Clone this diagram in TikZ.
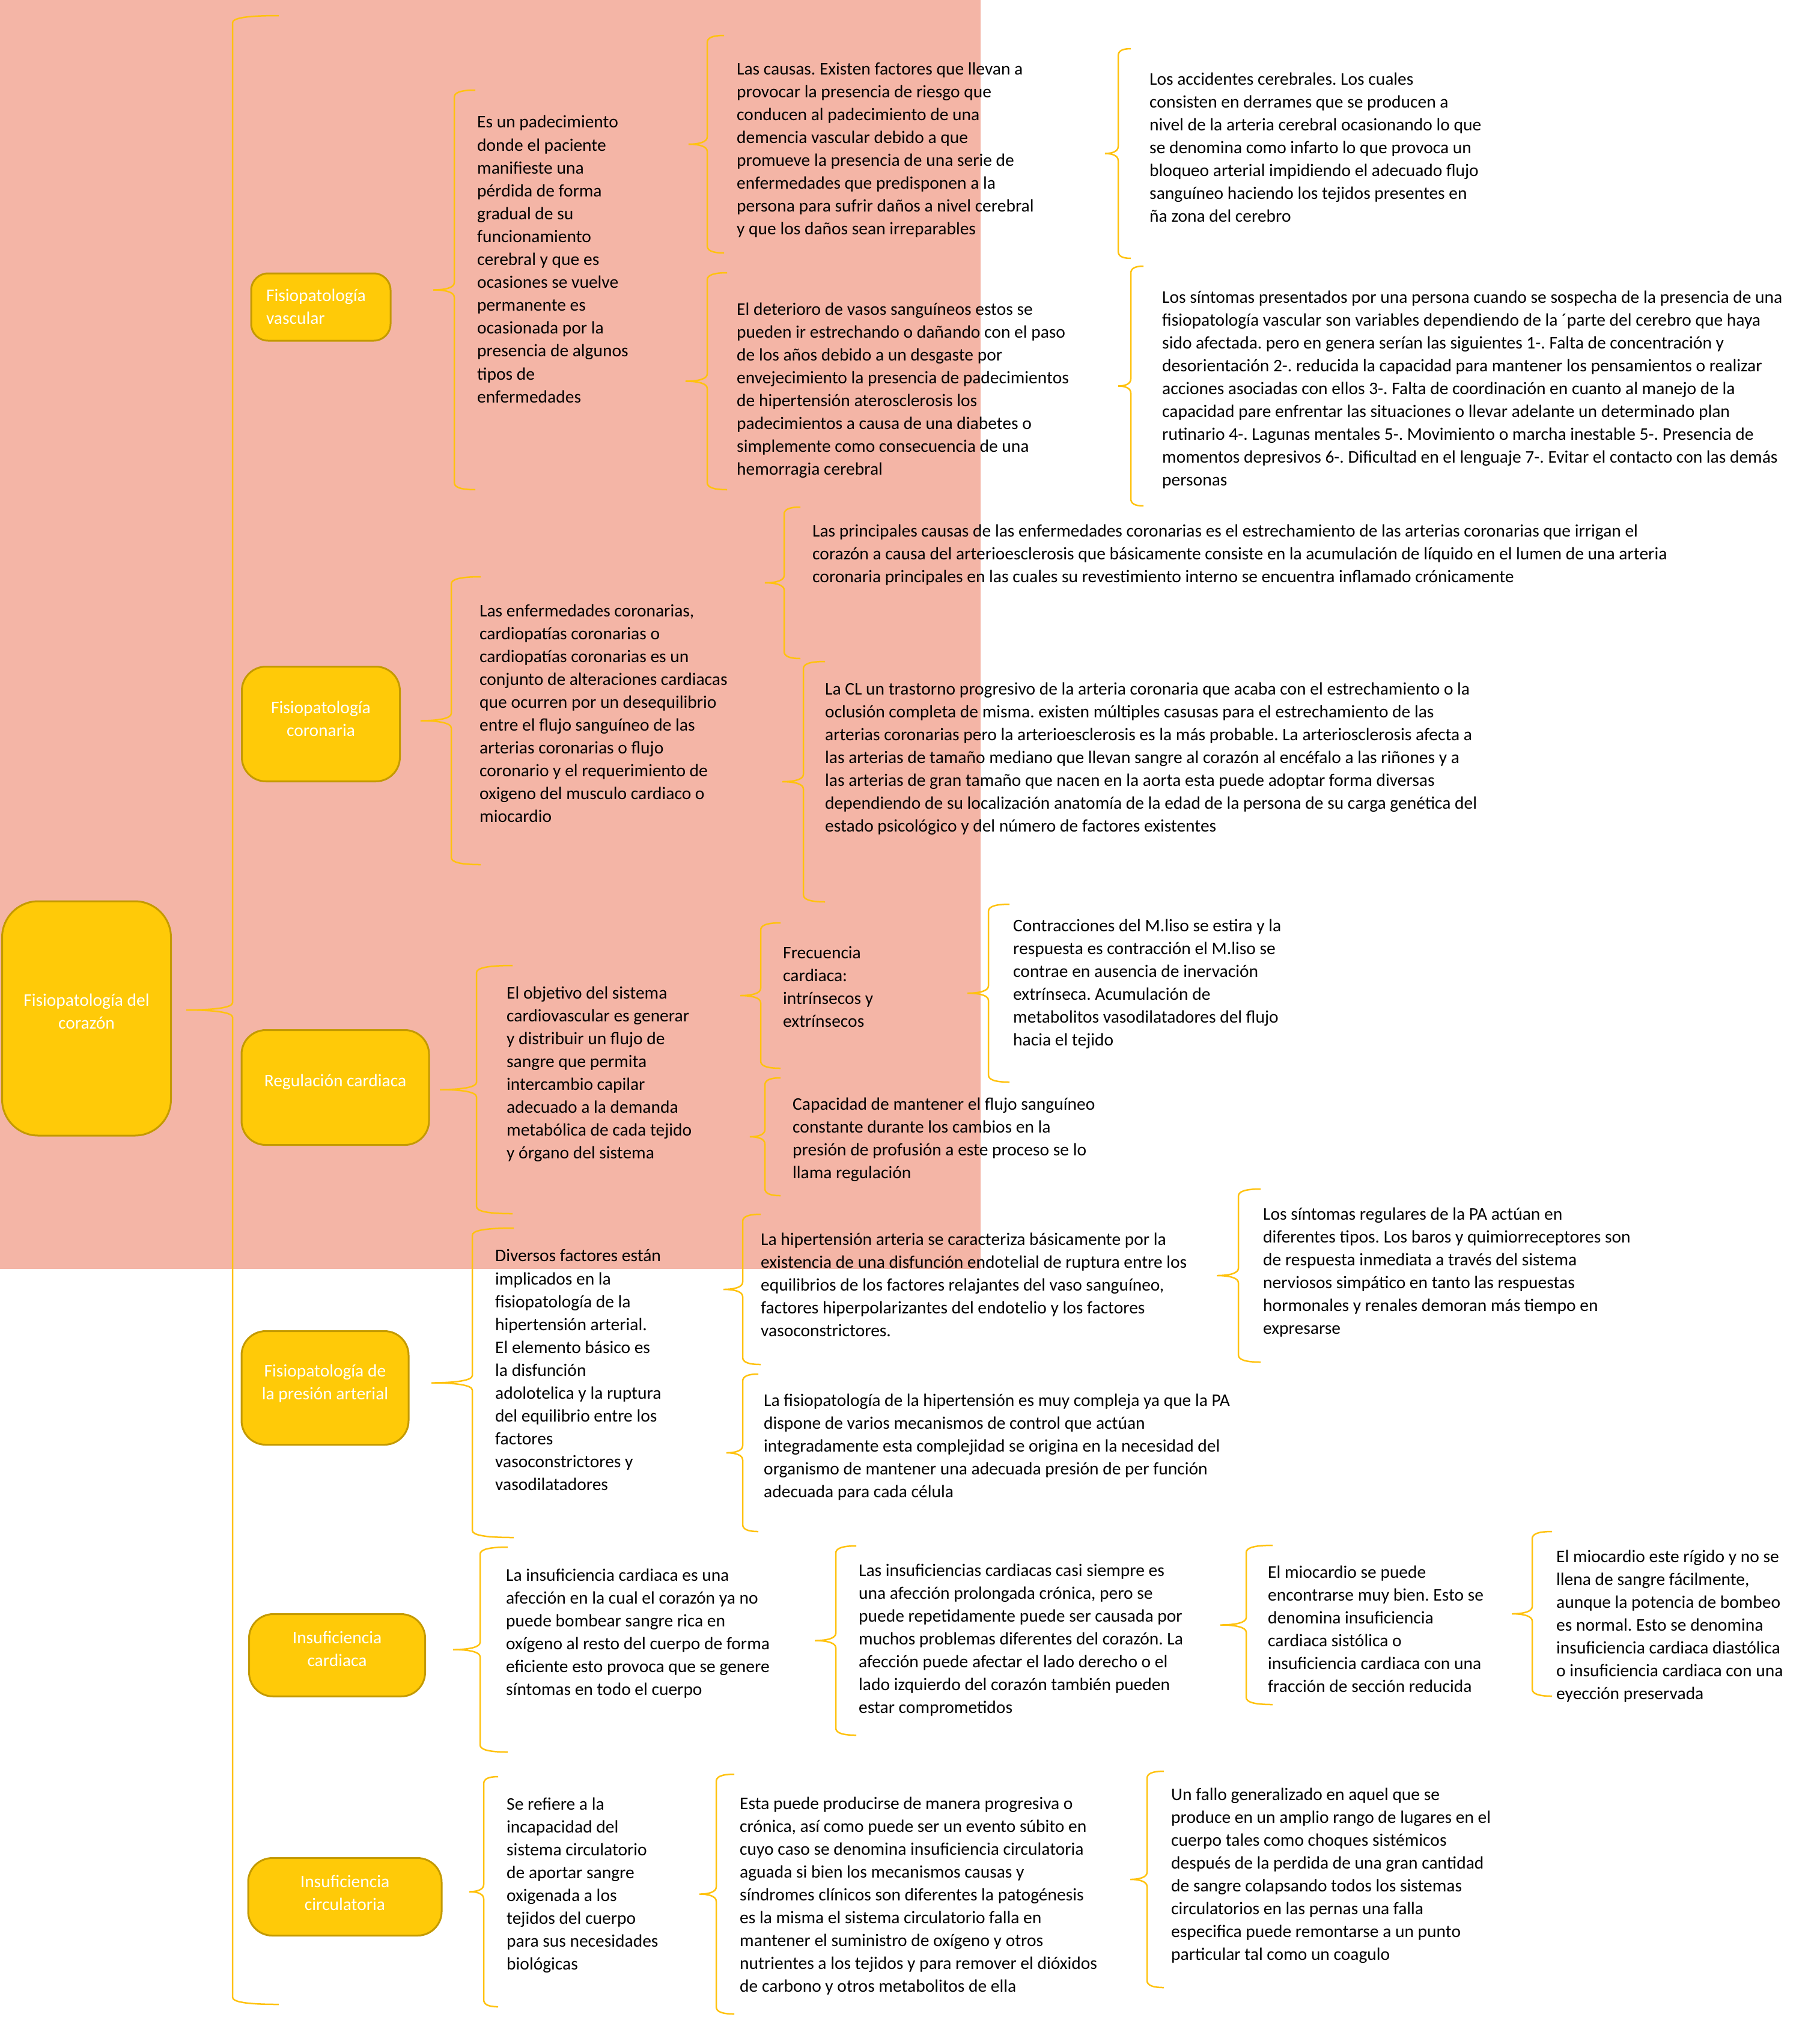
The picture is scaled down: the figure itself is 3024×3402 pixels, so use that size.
\documentclass[tikz,border=0pt]{standalone}
\usepackage{fontspec}
\setmainfont{Carlito}
\usepackage{tikz}
\frenchspacing
\definecolor{salmon300}{HTML}{F4B5A6}
\definecolor{amber500}{HTML}{FFCA08}
\definecolor{amber800}{HTML}{C49A00}
\definecolor{amber400}{HTML}{FFC20E}
\tikzstyle{tema}=[rectangle, rounded corners=40pt, draw=amber800, line width=3pt, fill=amber500]
\tikzstyle{rotulo}=[text=white, align=center, inner sep=0pt, yshift=4pt, execute at begin node=\strut, execute at end node=\strut]
\tikzstyle{texto}=[anchor=west, align=left, inner sep=0pt, yshift=-5pt, execute at begin node=\strut, execute at end node=\strut]
\tikzstyle{llave}=[draw=amber400, line width=2.5pt]
% #1 punta, #2 linea, #3 arriba, #4 abajo, #5 extremos
\newcommand{\llave}[5]{%
  \pgfmathsetmacro{\ymed}{(#3+#4)/2}
  \draw[llave] (#5,#3) .. controls ({#2+0.3*(#5-#2)},#3) and (#2,#3+4) .. (#2,#3+12)
    -- (#2,\ymed-12) .. controls (#2,\ymed-4) and ({#2-0.4*(#2-#1)},\ymed) .. (#1,\ymed)
    .. controls ({#2-0.4*(#2-#1)},\ymed) and (#2,\ymed+4) .. (#2,\ymed+12)
    -- (#2,#4-12) .. controls (#2,#4-4) and ({#2+0.3*(#5-#2)},#4) .. (#5,#4);
}

\begin{document}
\begin{tikzpicture}[x=1pt, y=-1pt, font=\fontsize{29.5}{38.1}\selectfont]
	\useasboundingbox (0,0) rectangle (3024,3402);
	\fill[white] (0,0) rectangle (3024,3402);
	\fill[salmon300] (0,0) rectangle (1632,2112);

	\node[tema, minimum width=281pt, minimum height=390pt, rounded corners=60pt, label={[rotulo, yshift=2pt]center:Fisiopatología del\\corazón}] (corazon) at (144,1695) {};
	\node[tema, minimum width=232pt, minimum height=112pt, rounded corners=28pt, label={[rotulo, text width=182pt, align=left, yshift=-6pt]center:Fisiopatología\\vascular}] (vascular) at (534,511) {};
	\node[tema, minimum width=263pt, minimum height=191pt, label={[rotulo, yshift=-1pt]center:Fisiopatología\\coronaria}] (coronaria) at (534,1205) {};
	\node[tema, minimum width=312pt, minimum height=191pt, label={[rotulo, yshift=5pt]center:Regulación cardiaca}] (regulacion) at (558,1810) {};
	\node[tema, minimum width=278pt, minimum height=189pt, label={[rotulo]center:Fisiopatología de\\la presión arterial}] (presion) at (541,2310) {};
	\node[tema, minimum width=293pt, minimum height=137pt, label={[rotulo, yshift=1pt]center:Insuficiencia\\cardiaca}] (icardiaca) at (561,2755) {};
	\node[tema, minimum width=322pt, minimum height=129pt, label={[rotulo, yshift=-3pt]center:Insuficiencia\\circulatoria}] (icirculatoria) at (574,3157) {};

	\node[texto] (padecimiento) at (794,432) {Es un padecimiento\\donde el paciente\\manifieste una\\pérdida de forma\\gradual de su\\funcionamiento\\cerebral y que es\\ocasiones se vuelve\\permanente es\\ocasionada por la\\presencia de algunos\\tipos de\\enfermedades};
	\node[texto] (causas) at (1226,248) {Las causas. Existen factores que llevan a\\provocar la presencia de riesgo que\\conducen al padecimiento de una\\demencia vascular debido a que\\promueve la presencia de una serie de\\enfermedades que predisponen a la\\persona para sufrir daños a nivel cerebral\\y que los daños sean irreparables};
	\node[texto] (deterioro) at (1226,648) {El deterioro de vasos sanguíneos estos se\\pueden ir estrechando o dañando con el paso\\de los años debido a un desgaste por\\envejecimiento la presencia de padecimientos\\de hipertensión aterosclerosis los\\padecimientos a causa de una diabetes o\\simplemente como consecuencia de una\\hemorragia cerebral};
	\node[texto] (accidentes) at (1913,246) {Los accidentes cerebrales. Los cuales\\consisten en derrames que se producen a\\nivel de la arteria cerebral ocasionando lo que\\se denomina como infarto lo que provoca un\\bloqueo arterial impidiendo el adecuado flujo\\sanguíneo haciendo los tejidos presentes en\\ña zona del cerebro};
	\node[texto] (sintomas) at (1934,647) {Los síntomas presentados por una persona cuando se sospecha de la presencia de una\\fisiopatología vascular son variables dependiendo de la ´parte del cerebro que haya\\sido afectada. pero en genera serían las siguientes 1-. Falta de concentración y\\desorientación 2-. reducida la capacidad para mantener los pensamientos o realizar\\acciones asociadas con ellos 3-. Falta de coordinación en cuanto al manejo de la\\capacidad pare enfrentar las situaciones o llevar adelante un determinado plan\\rutinario 4-. Lagunas mentales 5-. Movimiento o marcha inestable 5-. Presencia de\\momentos depresivos 6-. Dificultad en el lenguaje 7-. Evitar el contacto con las demás\\personas};

	\node[texto] (enfcoro) at (798,1188) {Las enfermedades coronarias,\\cardiopatías coronarias o\\cardiopatías coronarias es un\\conjunto de alteraciones cardiacas\\que ocurren por un desequilibrio\\entre el flujo sanguíneo de las\\arterias coronarias o flujo\\coronario y el requerimiento de\\oxigeno del musculo cardiaco o\\miocardio};
	\node[texto] (principales) at (1352,922) {Las principales causas de las enfermedades coronarias es el estrechamiento de las arterias coronarias que irrigan el\\corazón a causa del arterioesclerosis que básicamente consiste en la acumulación de líquido en el lumen de una arteria\\coronaria principales en las cuales su revestimiento interno se encuentra inflamado crónicamente};
	\node[texto] (trastorno) at (1373,1261) {La CL un trastorno progresivo de la arteria coronaria que acaba con el estrechamiento o la\\oclusión completa de misma. existen múltiples casusas para el estrechamiento de las\\arterias coronarias pero la arterioesclerosis es la más probable. La arteriosclerosis afecta a\\las arterias de tamaño mediano que llevan sangre al corazón al encéfalo a las riñones y a\\las arterias de gran tamaño que nacen en la aorta esta puede adoptar forma diversas\\dependiendo de su localización anatomía de la edad de la persona de su carga genética del\\estado psicológico y del número de factores existentes};

	\node[texto] (objetivo) at (843,1786) {El objetivo del sistema\\cardiovascular es generar\\y distribuir un flujo de\\sangre que permita\\intercambio capilar\\adecuado a la demanda\\metabólica de cada tejido\\y órgano del sistema};
	\node[texto] (frecuencia) at (1303,1643) {Frecuencia\\cardiaca:\\intrínsecos y\\extrínsecos};
	\node[texto] (capacidad) at (1319,1895) {Capacidad de mantener el flujo sanguíneo\\constante durante los cambios en la\\presión de profusión a este proceso se lo\\llama regulación};
	\node[texto] (contracciones) at (1686,1636) {Contracciones del M.liso se estira y la\\respuesta es contracción el M.liso se\\contrae en ausencia de inervación\\extrínseca. Acumulación de\\metabolitos vasodilatadores del flujo\\hacia el tejido};

	\node[texto] (factores) at (824,2281) {Diversos factores están\\implicados en la\\fisiopatología de la\\hipertensión arterial.\\El elemento básico es\\la disfunción\\adolotelica y la ruptura\\del equilibrio entre los\\factores\\vasoconstrictores y\\vasodilatadores};
	\node[texto] (hipertension) at (1266,2139) {La hipertensión arteria se caracteriza básicamente por la\\existencia de una disfunción endotelial de ruptura entre los\\equilibrios de los factores relajantes del vaso sanguíneo,\\factores hiperpolarizantes del endotelio y los factores\\vasoconstrictores.};
	\node[texto] (complejidad) at (1271,2407) {La fisiopatología de la hipertensión es muy compleja ya que la PA\\dispone de varios mecanismos de control que actúan\\integradamente esta complejidad se origina en la necesidad del\\organismo de mantener una adecuada presión de per función\\adecuada para cada célula};
	\node[texto] (regulares) at (2102,2116) {Los síntomas regulares de la PA actúan en\\diferentes tipos. Los baros y quimiorreceptores son\\de respuesta inmediata a través del sistema\\nerviosos simpático en tanto las respuestas\\hormonales y renales demoran más tiempo en\\expresarse};

	\node[texto] (afeccion) at (842,2717) {La insuficiencia cardiaca es una\\afección en la cual el corazón ya no\\puede bombear sangre rica en\\oxígeno al resto del cuerpo de forma\\eficiente esto provoca que se genere\\síntomas en todo el cuerpo};
	\node[texto] (cronica) at (1429,2728) {Las insuficiencias cardiacas casi siempre es\\una afección prolongada crónica, pero se\\puede repetidamente puede ser causada por\\muchos problemas diferentes del corazón. La\\afección puede afectar el lado derecho o el\\lado izquierdo del corazón también pueden\\estar comprometidos};
	\node[texto] (sistolica) at (2110,2712) {El miocardio se puede\\encontrarse muy bien. Esto se\\denomina insuficiencia\\cardiaca sistólica o\\insuficiencia cardiaca con una\\fracción de sección reducida};
	\node[texto] (diastolica) at (2590,2705) {El miocardio este rígido y no se\\llena de sangre fácilmente,\\aunque la potencia de bombeo\\es normal. Esto se denomina\\insuficiencia cardiaca diastólica\\o insuficiencia cardiaca con una\\eyección preservada};

	\node[texto] (incapacidad) at (843,3136) {Se refiere a la\\incapacidad del\\sistema circulatorio\\de aportar sangre\\oxigenada a los\\tejidos del cuerpo\\para sus necesidades\\biológicas};
	\node[texto] (progresiva) at (1231,3154) {Esta puede producirse de manera progresiva o\\crónica, así como puede ser un evento súbito en\\cuyo caso se denomina insuficiencia circulatoria\\aguada si bien los mecanismos causas y\\síndromes clínicos son diferentes la patogénesis\\es la misma el sistema circulatorio falla en\\mantener el suministro de oxígeno y otros\\nutrientes a los tejidos y para remover el dióxidos\\de carbono y otros metabolitos de ella};
	\node[texto] (fallo) at (1949,3120) {Un fallo generalizado en aquel que se\\produce en un amplio rango de lugares en el\\cuerpo tales como choques sistémicos\\después de la perdida de una gran cantidad\\de sangre colapsando todos los sistemas\\circulatorios en las pernas una falla\\especifica puede remontarse a un punto\\particular tal como un coagulo};

	\llave{310}{387}{26}{3336}{464}
	\llave{721}{756}{150}{815}{791}
	\llave{1146}{1177}{59}{421}{1205}
	\llave{1141}{1177}{454}{815}{1210}
	\llave{1839}{1861}{81}{430}{1882}
	\llave{1861}{1882}{443}{842}{1903}
	\llave{700}{751}{960}{1439}{800}
	\llave{1273}{1305}{844}{1096}{1332}
	\llave{1302}{1337}{1101}{1501}{1373}
	\llave{732}{793}{1607}{2020}{853}
	\llave{1232}{1266}{1536}{1778}{1299}
	\llave{1248}{1273}{1794}{1990}{1299}
	\llave{1610}{1645}{1505}{1801}{1680}
	\llave{718}{786}{2044}{2559}{855}
	\llave{1204}{1236}{2021}{2271}{1266}
	\llave{1209}{1236}{2287}{2549}{1262}
	\llave{2025}{2061}{1979}{2267}{2098}
	\llave{754}{799}{2575}{2916}{845}
	\llave{1356}{1391}{2573}{2888}{1425}
	\llave{2031}{2074}{2572}{2837}{2118}
	\llave{2516}{2550}{2549}{2823}{2583}
	\llave{781}{805}{2957}{3340}{829}
	\llave{1164}{1192}{2953}{3352}{1222}
	\llave{1881}{1909}{2948}{3308}{1937}
\end{tikzpicture}
\end{document}
